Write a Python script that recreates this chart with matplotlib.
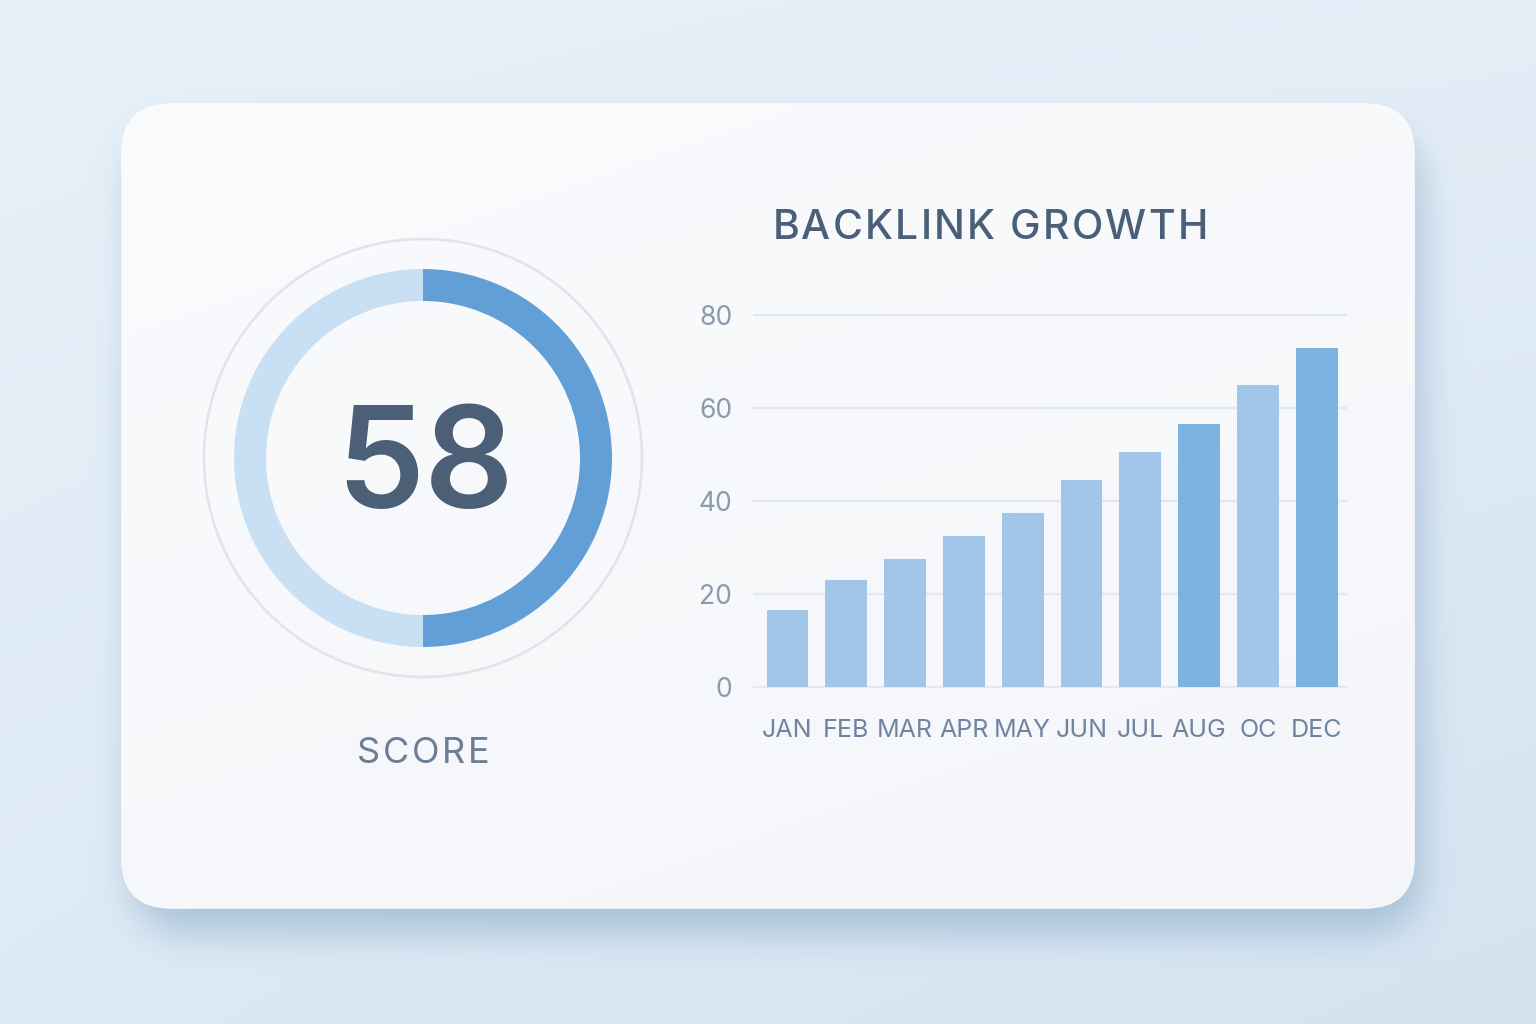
import numpy as np
import matplotlib
matplotlib.use("Agg")
import matplotlib.pyplot as plt
from matplotlib.patches import FancyBboxPatch, Circle

# ---------------- data ----------------
months = ["JAN", "FEB", "MAR", "APR", "MAY", "JUN", "JUL", "AUG", "OC", "DEC"]
backlinks = [16.5, 23, 27.5, 32.5, 37.5, 44.5, 50.5, 56.5, 65, 73]
highlight = [False, False, False, False, False, False, False, True, False, True]
y_ticks = [0, 20, 40, 60, 80]
score = 58
gauge_filled = 50          # share of the ring drawn in the dark colour (as pictured)
title = "BACKLINK GROWTH"
score_label = "SCORE"

# ---------------- style ----------------
W, H = 1536, 1024
FONT = ["Inter", "DejaVu Sans"]
plt.rcParams["font.family"] = FONT

C_BAR = "#a0c6e9"
C_BAR_HI = "#7db3e0"
C_RING_DARK = "#629fd7"
C_RING_LIGHT = "#c9dff3"
C_OUTER = "#e1e4eb"
C_NUM = "#4b5f77"
C_TITLE = "#4a6079"
C_LABEL = "#6b7e96"
C_YTICK = "#8a9aaf"
C_XTICK = "#7084a0"
C_GRID = "#e3e7ee"

fig = plt.figure(figsize=(W / 100, H / 100), dpi=100)

# ---------------- background with card shadow ----------------
bg_ax = fig.add_axes([0, 0, 1, 1])
bg_ax.set_xlim(0, W)
bg_ax.set_ylim(H, 0)
bg_ax.axis("off")

yy, xx = np.mgrid[0:H, 0:W].astype(float)
u = xx / (W - 1)
v = yy / (H - 1)
tl = np.array([0.905, 0.943, 0.975])
tr = np.array([0.893, 0.932, 0.968])
bl = np.array([0.868, 0.916, 0.958])
br = np.array([0.830, 0.890, 0.943])
img = ((1 - u)[..., None] * (1 - v)[..., None] * tl + u[..., None] * (1 - v)[..., None] * tr
       + (1 - u)[..., None] * v[..., None] * bl + u[..., None] * v[..., None] * br)

CX0, CY0, CX1, CY1, CR = 122, 104, 1414, 908, 50


def rr_mask(x0, y0, x1, y1, r):
    dx = np.maximum(np.maximum(x0 + r - xx, 0), xx - (x1 - r))
    dy = np.maximum(np.maximum(y0 + r - yy, 0), yy - (y1 - r))
    inside = (xx >= x0) & (xx <= x1) & (yy >= y0) & (yy <= y1)
    return (inside & (dx ** 2 + dy ** 2 <= r ** 2)).astype(float)


def box_blur(a, k):
    pad = k // 2
    b = np.pad(a, ((pad, pad), (0, 0)), mode="edge")
    c = np.cumsum(b, axis=0)
    c = np.vstack([np.zeros((1, c.shape[1])), c])
    a = (c[k:] - c[:-k]) / k
    a = a[: H]
    b = np.pad(a, ((0, 0), (pad, pad)), mode="edge")
    c = np.cumsum(b, axis=1)
    c = np.hstack([np.zeros((c.shape[0], 1)), c])
    a = (c[:, k:] - c[:, :-k]) / k
    return a[:, : W]


sh = rr_mask(CX0 + 10, CY0 + 26, CX1 + 6, CY1 + 24, CR)
for _ in range(3):
    sh = box_blur(sh, 35)
sh_col = np.array([0.46, 0.60, 0.74])
a = 0.48 * sh
img = img * (1 - a[..., None]) + sh_col * a[..., None]
bg_ax.imshow(img, extent=[0, W, H, 0], interpolation="bilinear", zorder=0)

card = FancyBboxPatch((CX0, CY0), CX1 - CX0, CY1 - CY0,
                      boxstyle=f"round,pad=0,rounding_size={CR}",
                      facecolor="#f6f7fa", edgecolor="#fbfcfd", linewidth=1.2, zorder=1)
bg_ax.add_patch(card)
cu = np.linspace(0, 1, 64)
c_a = np.array([0.980, 0.984, 0.992])
c_b = np.array([0.957, 0.964, 0.977])
g = (cu[None, :] * 0.35 + cu[:, None] * 0.65)
cg = (1 - g)[..., None] * c_a + g[..., None] * c_b
im = bg_ax.imshow(cg, extent=[CX0, CX1, CY1, CY0], interpolation="bilinear", zorder=1.5)
im.set_clip_path(card)


def spaced_text(ax, x, y, s, spacing, **kw):
    r = fig.canvas.get_renderer()

    def width(t):
        if not t:
            return 0.0
        tt = ax.text(0, 0, t, **kw)
        w = tt.get_window_extent(r).width
        tt.remove()
        return w

    total = width(s) + spacing * (len(s) - 1)
    x0 = x - total / 2
    for i, ch in enumerate(s):
        if ch == " ":
            continue
        xi = x0 + width(s[: i + 1]) - width(ch) + spacing * i
        ax.text(xi, y, ch, ha="left", va="baseline", zorder=5, **kw)


# ---------------- gauge ----------------
GX, GY, GS = 423, 458, 250
g_ax = fig.add_axes([(GX - GS) / W, (H - GY - GS) / H, 2 * GS / W, 2 * GS / H])
g_ax.pie([gauge_filled, 100 - gauge_filled], colors=[C_RING_DARK, C_RING_LIGHT],
         startangle=90, counterclock=False, radius=189,
         wedgeprops=dict(width=32, linewidth=0))
g_ax.add_patch(Circle((0, 0), 219, fill=False, edgecolor=C_OUTER, linewidth=1.9))
g_ax.set_xlim(-GS, GS)
g_ax.set_ylim(-GS, GS)
g_ax.set_aspect("equal")
g_ax.axis("off")
g_ax.text(2, -50, str(score), ha="center", va="baseline", fontsize=101,
          fontweight="semibold", color=C_NUM)

spaced_text(bg_ax, 423, 763, score_label, 2.8, fontsize=26, color=C_LABEL)
spaced_text(bg_ax, 990, 239, title, 2.2, fontsize=29.5, fontweight="medium", color=C_TITLE)

# ---------------- bar chart ----------------
PX0, PX1 = 753, 1347
PY_TOP, PY_BOT = 305, 690
Y0_PX, Y80_PX = 687, 315
ppu = (Y0_PX - Y80_PX) / 80.0
b_ax = fig.add_axes([PX0 / W, (H - PY_BOT) / H, (PX1 - PX0) / W, (PY_BOT - PY_TOP) / H])
b_ax.set_facecolor("none")
x = np.arange(len(months))
colors = [C_BAR_HI if h else C_BAR for h in highlight]
b_ax.bar(x, backlinks, width=0.71, color=colors, edgecolor="none", zorder=3)
b_ax.set_ylim(-(PY_BOT - Y0_PX) / ppu, (Y0_PX - PY_TOP) / ppu)
b_ax.set_xlim(-0.587, 9.515)
b_ax.set_yticks(y_ticks)
b_ax.set_xticks(x, months)
for s in b_ax.spines.values():
    s.set_visible(False)
b_ax.grid(axis="y", color=C_GRID, linewidth=1.6, zorder=0)
b_ax.grid(axis="x", visible=False)
b_ax.tick_params(axis="y", length=0, pad=15, labelsize=19, labelcolor=C_YTICK)
b_ax.tick_params(axis="x", length=0, pad=21, labelsize=18, labelcolor=C_XTICK)

fig.savefig("out.png", dpi=100)
